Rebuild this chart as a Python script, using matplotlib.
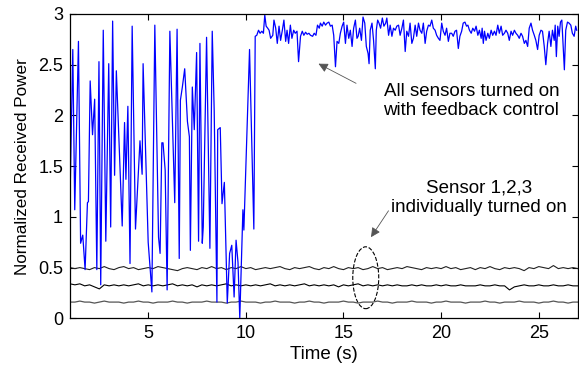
import numpy as np
import matplotlib
matplotlib.use("Agg")
import matplotlib.pyplot as plt
from matplotlib.patches import Ellipse

plt.rcParams['font.family'] = ['Liberation Sans', 'DejaVu Sans']

# Blue trace: all sensors with feedback control (time s, normalized power)
blue_t = [1.01, 1.14, 1.24, 1.43, 1.54, 1.65, 1.77, 1.89, 1.94, 2.03, 2.15, 2.26, 2.37, 2.48, 2.57,
          2.70, 2.83, 2.98, 3.08, 3.18, 3.28, 3.37, 3.67, 3.79, 3.86, 3.96, 4.07, 4.18, 4.35, 4.58,
          4.69, 4.74, 5.00, 5.19, 5.34, 5.53, 5.61, 5.70, 5.76, 5.87, 5.97, 6.11, 6.36, 6.48, 6.59,
          6.65, 6.75, 6.87, 7.01, 7.11, 7.16, 7.26, 7.36, 7.48, 7.58, 7.65, 7.77, 7.82, 7.99, 8.16,
          8.28, 8.38, 8.52, 8.56, 8.69, 8.78, 8.90, 9.05, 9.17, 9.28, 9.40, 9.50, 9.60, 9.69, 9.85,
          9.90, 10.19, 10.41,
          10.48, 10.56, 10.65, 10.73, 10.82, 10.90, 10.97, 11.04, 11.12, 11.19, 11.27, 11.38, 11.44,
          11.53, 11.61, 11.70, 11.78, 11.87, 11.95, 12.04, 12.11, 12.19, 12.28, 12.36, 12.45, 12.53,
          12.62, 12.70, 12.80, 12.89, 12.97, 13.06, 13.14, 13.23, 13.31, 13.42, 13.50, 13.59, 13.67,
          13.76, 13.82, 13.91, 13.99, 14.08, 14.16, 14.25, 14.33, 14.42, 14.50, 14.59, 14.67, 14.76,
          14.84, 14.93, 15.01, 15.10, 15.18, 15.27, 15.35, 15.44, 15.52, 15.61, 15.69,
          15.75, 15.83, 15.92, 16.00, 16.09, 16.17, 16.26, 16.31, 16.37, 16.46, 16.54, 16.63, 16.68,
          16.75, 16.82, 16.90, 16.99, 17.07, 17.16, 17.22, 17.31, 17.39, 17.48, 17.56, 17.65, 17.73,
          17.82, 17.90, 17.99, 18.07, 18.16, 18.24, 18.33, 18.41, 18.50, 18.58, 18.67, 18.75, 18.84,
          18.92, 19.01, 19.09, 19.18, 19.26, 19.35, 19.43, 19.52, 19.60, 19.69, 19.77, 19.86, 19.94,
          20.03, 20.11, 20.20, 20.28, 20.37, 20.45, 20.54, 20.62, 20.71, 20.79, 20.88, 20.96, 21.05,
          21.13, 21.22, 21.30,
          21.37, 21.45, 21.54, 21.62, 21.71, 21.79, 21.88, 21.96, 22.05, 22.10, 22.16, 22.22, 22.30,
          22.39, 22.47, 22.56, 22.64, 22.73, 22.81, 22.90, 22.98, 23.07, 23.15, 23.24, 23.32, 23.41,
          23.49, 23.58, 23.66, 23.75, 23.83, 23.92, 24.00, 24.09, 24.17, 24.26, 24.34, 24.43, 24.51,
          24.60, 24.68, 24.77, 24.85, 24.94, 25.02, 25.11, 25.19, 25.28, 25.36, 25.45, 25.53, 25.62,
          25.70, 25.79, 25.84, 25.90, 25.97, 26.04, 26.11, 26.18, 26.24, 26.31, 26.38, 26.47, 26.55,
          26.64, 26.72, 26.81, 26.89, 26.94]
blue_v = [1.30, 2.65, 1.07, 2.73, 0.74, 0.82, 0.48, 1.14, 1.15, 2.34, 1.81, 2.16, 0.48, 2.53, 0.33,
          2.84, 0.76, 2.51, 0.90, 2.93, 1.41, 2.44, 0.91, 1.93, 1.37, 2.09, 0.54, 2.88, 0.88, 1.75,
          1.42, 2.51, 0.75, 0.26, 2.89, 0.80, 0.64, 1.73, 1.73, 1.46, 0.28, 2.83, 1.14, 2.85, 0.59,
          2.15, 2.28, 2.46, 1.94, 1.79, 0.67, 2.28, 1.86, 2.62, 0.76, 2.71, 0.74, 0.90, 2.77, 0.69,
          2.83, 2.05, 0.16, 1.86, 1.88, 1.13, 1.34, 0.15, 0.64, 0.72, 0.21, 0.77, 0.55, 0.00, 1.07,
          0.87, 2.65, 0.88,
          2.78, 2.79, 2.84, 2.81, 2.83, 2.81, 2.99, 2.88, 2.86, 2.84, 2.76, 2.79, 2.94,
          2.86, 2.71, 2.88, 2.74, 2.84, 2.94, 2.73, 2.84, 2.71, 2.89, 2.76, 2.84, 2.81,
          2.83, 2.53, 2.78, 2.83, 2.79, 2.82, 2.80, 2.81, 2.79, 2.78, 2.81, 2.79, 2.89,
          2.86, 2.91, 2.88, 2.92, 2.89, 2.91, 2.92, 2.88, 2.89, 2.79, 2.48, 2.73, 2.71,
          2.81, 2.88, 2.92, 2.71, 2.89, 2.76, 2.84, 2.68, 2.86, 2.94, 2.76,
          2.78, 2.86, 2.74, 2.97, 2.91, 2.68, 2.61, 2.51, 2.84, 2.91, 2.74, 2.46, 2.84,
          2.94, 2.91, 2.86, 2.96, 2.88, 2.91, 2.96, 2.79, 2.89, 2.78, 2.86, 2.84, 2.88,
          2.89, 2.79, 2.86, 2.94, 2.63, 2.83, 2.78, 2.91, 2.71, 2.76, 2.89, 2.78, 2.91,
          2.84, 2.81, 2.91, 2.71, 2.83, 2.89, 2.88, 2.94, 2.86, 2.84, 2.79, 2.76, 2.74,
          2.91, 2.83, 2.79, 2.86, 2.73, 2.81, 2.81, 2.78, 2.83, 2.84, 2.66, 2.78, 2.83,
          2.91, 2.92, 2.88,
          2.89, 2.84, 2.81, 2.86, 2.83, 2.88, 2.79, 2.84, 2.76, 2.86, 2.71, 2.83, 2.74,
          2.81, 2.76, 2.84, 2.79, 2.83, 2.79, 2.89, 2.81, 2.88, 2.79, 2.81, 2.84, 2.81,
          2.74, 2.83, 2.79, 2.84, 2.81, 2.79, 2.76, 2.81, 2.78, 2.71, 2.74, 2.68, 2.86,
          2.91, 2.84, 2.79, 2.74, 2.65, 2.79, 2.84, 2.83, 2.68, 2.50, 2.71, 2.83, 2.68,
          2.84, 2.74, 2.89, 2.58, 2.88, 2.78, 2.92, 2.94, 2.71, 2.45, 2.84, 2.92, 2.91,
          2.89, 2.81, 2.78, 2.88, 2.84]

# Individual sensors (sampled every 0.25 s from 1 s to 27 s)
sensor_t = np.linspace(1.0, 27.0, 105)
sensor1 = [0.50, 0.49, 0.50, 0.49, 0.48, 0.50, 0.49, 0.51, 0.49, 0.48,
           0.50, 0.51, 0.49, 0.50, 0.48, 0.49, 0.50, 0.49, 0.51, 0.50,
           0.49, 0.48, 0.47, 0.49, 0.50, 0.49, 0.48, 0.50, 0.49, 0.51,
           0.49, 0.50, 0.48, 0.50, 0.49, 0.51, 0.49, 0.50, 0.48, 0.49,
           0.50, 0.49, 0.50, 0.51, 0.49, 0.48, 0.50, 0.49, 0.50, 0.51,
           0.49, 0.48, 0.50, 0.49, 0.51, 0.49, 0.48, 0.50, 0.49, 0.50,
           0.48, 0.49, 0.51, 0.49, 0.50, 0.48, 0.49, 0.50, 0.49, 0.51,
           0.50, 0.49, 0.48, 0.50, 0.49, 0.50, 0.49, 0.51, 0.49, 0.50,
           0.48, 0.49, 0.50, 0.48, 0.50, 0.49, 0.51, 0.49, 0.48, 0.50,
           0.49, 0.50, 0.49, 0.47, 0.50, 0.49, 0.51, 0.50, 0.49, 0.52,
           0.49, 0.50, 0.49, 0.50, 0.49]
sensor2 = [0.34, 0.33, 0.34, 0.32, 0.33, 0.31, 0.29, 0.33, 0.32, 0.33,
           0.32, 0.33, 0.32, 0.33, 0.34, 0.32, 0.33, 0.32, 0.33, 0.32,
           0.33, 0.34, 0.32, 0.33, 0.32, 0.33, 0.31, 0.33, 0.32, 0.33,
           0.32, 0.33, 0.34, 0.32, 0.33, 0.32, 0.33, 0.32, 0.33, 0.32,
           0.33, 0.34, 0.32, 0.33, 0.32, 0.33, 0.32, 0.33, 0.34, 0.32,
           0.33, 0.32, 0.33, 0.32, 0.33, 0.31, 0.33, 0.32, 0.33, 0.34,
           0.32, 0.33, 0.32, 0.33, 0.32, 0.33, 0.32, 0.33, 0.32, 0.32,
           0.33, 0.32, 0.33, 0.32, 0.32, 0.33, 0.32, 0.33, 0.32, 0.32,
           0.33, 0.32, 0.32, 0.32, 0.33, 0.32, 0.32, 0.33, 0.32, 0.32,
           0.28, 0.31, 0.32, 0.33, 0.32, 0.32, 0.33, 0.32, 0.32, 0.33,
           0.32, 0.32, 0.33, 0.32, 0.32]
sensor3 = [0.16, 0.16, 0.17, 0.16, 0.16, 0.15, 0.16, 0.17, 0.16, 0.16,
           0.16, 0.15, 0.16, 0.16, 0.17, 0.16, 0.16, 0.15, 0.16, 0.16,
           0.16, 0.17, 0.16, 0.16, 0.15, 0.16, 0.16, 0.16, 0.17, 0.16,
           0.16, 0.16, 0.15, 0.16, 0.16, 0.17, 0.16, 0.16, 0.16, 0.15,
           0.16, 0.16, 0.17, 0.16, 0.16, 0.16, 0.15, 0.16, 0.16, 0.17,
           0.16, 0.16, 0.15, 0.16, 0.16, 0.16, 0.17, 0.16, 0.16, 0.15,
           0.16, 0.16, 0.16, 0.17, 0.16, 0.16, 0.15, 0.16, 0.16, 0.16,
           0.17, 0.16, 0.16, 0.16, 0.15, 0.16, 0.16, 0.17, 0.16, 0.16,
           0.16, 0.15, 0.16, 0.16, 0.16, 0.17, 0.16, 0.16, 0.15, 0.16,
           0.16, 0.16, 0.17, 0.16, 0.16, 0.16, 0.15, 0.16, 0.16, 0.17,
           0.16, 0.16, 0.15, 0.16, 0.16]

x_ticks = [5, 10, 15, 20, 25]
y_ticks = [0, 0.5, 1, 1.5, 2, 2.5, 3]
y_tick_labels = ['0', '0.5', '1', '1.5', '2', '2.5', '3']

fig = plt.figure(figsize=(5.79, 3.68), dpi=100)
ax = fig.add_axes([0.121, 0.135, 0.877, 0.827])

ax.plot(sensor_t, sensor1, color='#222222', lw=0.8)
ax.plot(sensor_t, sensor2, color='black', lw=0.8)
ax.plot(sensor_t, sensor3, color='#555555', lw=0.9)
ax.plot(blue_t, blue_v, color='#0000ff', lw=0.9)

ax.set_xlim(1, 27)
ax.set_ylim(0, 3)
ax.set_xticks(x_ticks)
ax.set_yticks(y_ticks)
ax.set_yticklabels(y_tick_labels)
ax.tick_params(direction='in', top=True, right=True, labelsize=13, length=4, width=0.8, pad=5)
for s in ax.spines.values():
    s.set_linewidth(0.9)
ax.set_xlabel('Time (s)', fontsize=13.5, labelpad=3)
ax.set_ylabel('Normalized Received Power', fontsize=12.3, labelpad=6)

ax.annotate('All sensors turned on\nwith feedback control', xy=(13.72, 2.51), xytext=(21.55, 2.14),
            ha='center', va='center', fontsize=13.5, linespacing=1.15,
            arrowprops=dict(arrowstyle='-|>', color='#555555', lw=0.6, shrinkA=20, shrinkB=0,
                            mutation_scale=14, relpos=(0.0, 0.6)))
ax.annotate('Sensor 1,2,3\nindividually turned on', xy=(16.41, 0.80), xytext=(21.95, 1.19),
            ha='center', va='center', fontsize=13.5, linespacing=1.15,
            arrowprops=dict(arrowstyle='-|>', color='#555555', lw=0.6, shrinkA=0, shrinkB=0,
                            mutation_scale=14, relpos=(0.0, 0.25)))
ax.add_patch(Ellipse((16.14, 0.40), 1.33, 0.61, fill=False, ls='--', lw=0.8, ec='black'))

fig.savefig('out.png', dpi=100)
